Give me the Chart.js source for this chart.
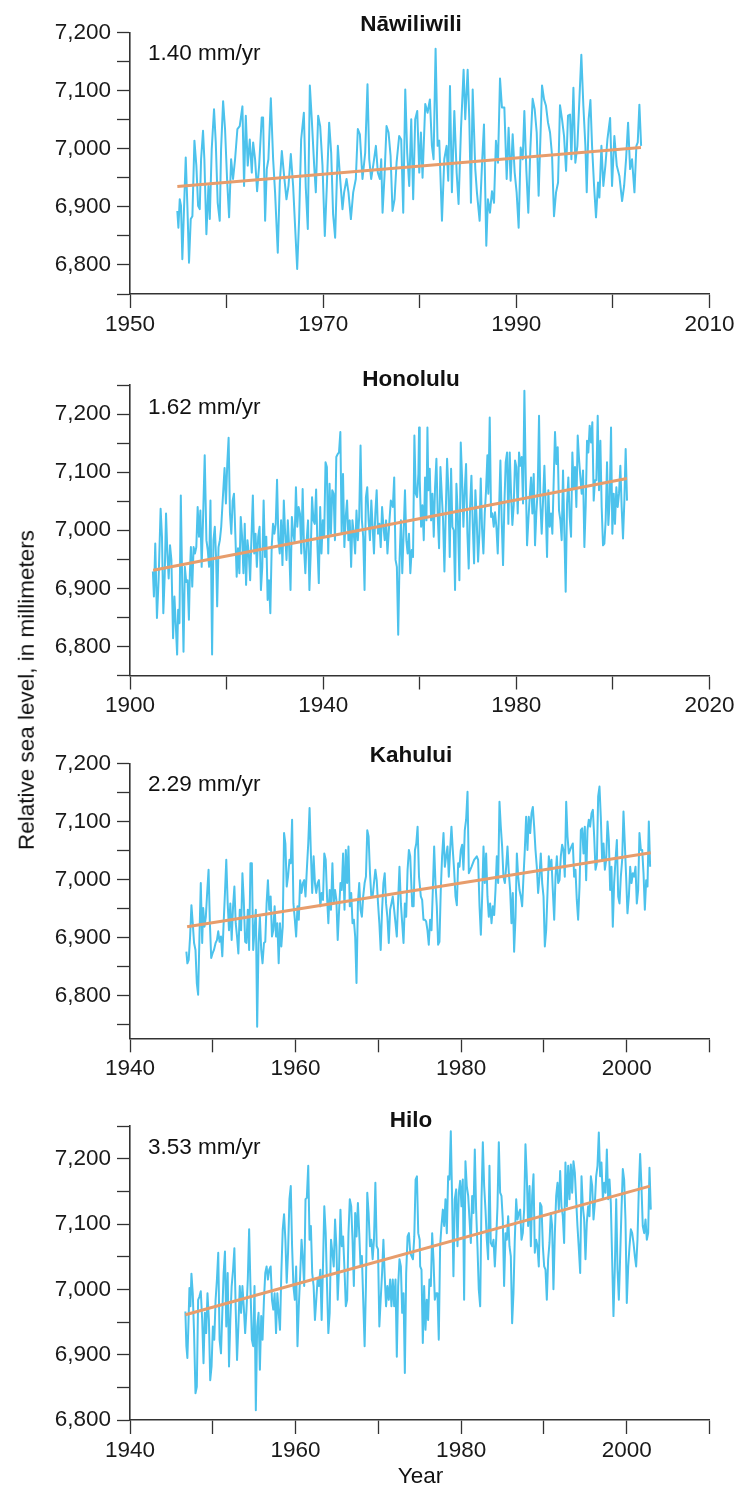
<!DOCTYPE html>
<html>
<head>
<meta charset="utf-8">
<script src="https://cdn.jsdelivr.net/npm/chart.js@4.4.1/dist/chart.umd.min.js"></script>
<style>
  body { margin: 0; background: #fff; }
  #page { position: relative; width: 738px; height: 1487px; overflow: hidden; font-family: "Liberation Sans", Arial, sans-serif; color: #111; }
  #page canvas { position: absolute; left: 0; }
  .lbl { position: absolute; font-size: 22.5px; line-height: 1; white-space: nowrap; }
  .station { font-weight: bold; transform: translateX(-50%); }
  .centered { transform: translateX(-50%); }
  #y-title { left: 27px; top: 690px; transform: translate(-50%, -50%) rotate(-90deg); }
</style>
</head>
<body>
<div id="page">
  <canvas id="chart-nawiliwili" width="738" height="345" style="top:0px"></canvas>
  <canvas id="chart-honolulu" width="738" height="381" style="top:345px"></canvas>
  <canvas id="chart-kahului" width="738" height="362" style="top:726px"></canvas>
  <canvas id="chart-hilo" width="738" height="399" style="top:1088px"></canvas>

  <div class="lbl station" style="left:411px; top:13px;">Nāwiliwili</div>
  <div class="lbl" style="left:148px; top:41.6px;">1.40 mm/yr</div>
  <div class="lbl station" style="left:411px; top:368px;">Honolulu</div>
  <div class="lbl" style="left:148px; top:396px;">1.62 mm/yr</div>
  <div class="lbl station" style="left:411px; top:744px;">Kahului</div>
  <div class="lbl" style="left:148px; top:772.6px;">2.29 mm/yr</div>
  <div class="lbl station" style="left:411px; top:1109px;">Hilo</div>
  <div class="lbl" style="left:148px; top:1136px;">3.53 mm/yr</div>

  <div class="lbl" id="y-title">Relative sea level, in millimeters</div>
  <div class="lbl centered" style="left:420.5px; top:1465px;">Year</div>
</div>

<script>
// Valores (ano decimal, nível relativo em mm)
const nawiliwiliYears = [
  1954.90,1955.01,1955.15,1955.28,1955.42,1955.77,1955.94,1956.11,1956.29,1956.46,
  1956.67,1956.87,1957.05,1957.22,1957.36,1957.56,1957.70,1957.91,1958.12,1958.26,
  1958.46,1958.70,1958.88,1959.08,1959.29,1959.43,1959.64,1959.84,1960.05,1960.26,
  1960.47,1960.67,1960.88,1961.12,1961.36,1961.64,1961.81,1961.99,1962.19,1962.40,
  1962.61,1962.75,1962.95,1963.16,1963.37,1963.64,1963.78,1963.99,1964.16,1964.33,
  1964.58,1964.82,1965.02,1965.30,1965.51,1965.72,1965.96,1966.20,1966.41,1966.65,
  1966.89,1967.10,1967.31,1967.51,1967.72,1968.00,1968.20,1968.41,1968.62,1968.82,
  1969.07,1969.24,1969.48,1969.69,1969.93,1970.17,1970.38,1970.62,1970.83,1971.03,
  1971.24,1971.52,1971.76,1972.00,1972.17,1972.42,1972.62,1972.87,1973.11,1973.38,
  1973.59,1973.80,1974.07,1974.35,1974.59,1974.77,1974.97,1975.18,1975.46,1975.66,
  1975.87,1976.01,1976.15,1976.35,1976.56,1976.77,1976.98,1977.18,1977.39,1977.60,
  1977.87,1978.08,1978.29,1978.50,1978.70,1978.91,1979.12,1979.32,1979.53,1979.74,
  1979.95,1980.12,1980.29,1980.57,1980.81,1981.05,1981.26,1981.43,1981.64,1981.85,
  1982.02,1982.30,1982.54,1982.78,1982.95,1983.13,1983.33,1983.58,1983.82,1984.02,
  1984.27,1984.54,1984.71,1984.96,1985.13,1985.30,1985.48,1985.75,1985.92,1986.20,
  1986.44,1986.65,1986.89,1987.06,1987.27,1987.48,1987.69,1987.89,1988.10,1988.31,
  1988.51,1988.76,1989.00,1989.20,1989.41,1989.62,1989.83,1990.03,1990.24,1990.45,
  1990.66,1990.83,1991.04,1991.24,1991.45,1991.69,1991.90,1992.11,1992.31,1992.66,
  1992.87,1993.07,1993.28,1993.49,1993.70,1993.90,1994.11,1994.32,1994.52,1994.73,
  1994.94,1995.15,1995.35,1995.56,1995.70,1995.91,1996.11,1996.32,1996.53,1996.73,
  1996.94,1997.15,1997.29,1997.49,1997.67,1997.84,1998.05,1998.25,1998.46,1998.60,
  1998.81,1999.01,1999.22,1999.43,1999.71,1999.91,2000.15,2000.40,2000.67,2000.95,
  2001.16,2001.36,2001.57,2001.78,2001.98,2002.23,2002.43,2002.57,2002.74,2002.92,
];
const nawiliwiliLevels = [
  6893,6864,6913,6902,6810,6985,6902,6804,6879,6884,
  7014,6971,6902,6896,6982,7031,6982,6853,6936,6879,
  6999,7068,7011,6907,6876,6999,7082,7034,6948,6882,
  6982,6948,6982,7034,7039,7073,6936,7057,6971,7016,
  6959,7011,6982,6927,6971,7054,7054,6876,6965,6982,
  7087,6982,6925,6821,6942,6996,6953,6913,6936,6991,
  6936,6864,6793,6879,7016,7062,6933,6862,7109,7051,
  6971,6925,7057,7039,6971,6850,6936,7045,6993,6887,
  6847,7005,6948,6896,6925,6948,6925,6879,6925,6948,
  7034,7025,6948,6993,7111,6982,6948,6971,7005,6959,
  6948,6982,6890,6953,7039,7028,6988,6893,6913,6976,
  7022,7016,6890,7102,6993,6936,7051,6913,7051,7065,
  6959,7028,6950,7077,7062,7085,7005,6982,7172,7005,
  7014,6876,6982,7005,6945,7108,6925,7065,6959,6905,
  7034,7136,7051,7136,7051,6907,7102,6965,6925,6876,
  6971,7042,6833,6913,6890,6927,6907,7014,6976,7121,
  7071,7071,6948,7036,6945,7025,6959,6925,6864,7002,
  6982,7065,6962,6890,6999,7086,7068,7028,6919,7109,
  7085,7074,7045,7028,6988,6884,6925,6942,7075,7051,
  7022,6962,7057,7059,6982,7105,6976,7005,7085,7162,
  7074,7005,6925,7051,7084,7005,6936,6882,6942,6916,
  7005,6936,6971,7016,7053,6936,7022,6971,6953,6910,
  6936,6982,7045,6965,6982,6925,7005,7011,7076,7005,
];
const nawiliwiliTrendYears = [1954.9, 2002.9];
const nawiliwiliTrendLevels = [6935, 7002];

const honoluluYears = [
  1904.74,1904.95,1905.23,1905.58,1905.92,1906.34,1906.62,1906.90,1907.18,1907.46,
  1907.74,1908.01,1908.29,1908.57,1908.92,1909.20,1909.48,1909.76,1909.97,1910.24,
  1910.52,1910.80,1911.08,1911.36,1911.64,1911.92,1912.20,1912.40,1912.61,1912.89,
  1913.17,1913.45,1913.73,1914.01,1914.29,1914.57,1914.84,1915.12,1915.47,1915.82,
  1916.10,1916.38,1916.66,1917.00,1917.28,1917.56,1917.84,1918.05,1918.33,1918.61,
  1918.89,1919.16,1919.58,1919.86,1920.14,1920.42,1920.70,1920.98,1921.26,1921.53,
  1921.81,1922.09,1922.37,1922.65,1922.93,1923.21,1923.49,1923.76,1924.04,1924.32,
  1924.60,1924.88,1925.16,1925.44,1925.72,1925.99,1926.27,1926.55,1926.83,1927.11,
  1927.39,1927.67,1927.95,1928.22,1928.50,1928.78,1929.06,1929.34,1929.62,1929.90,
  1930.18,1930.45,1930.73,1931.01,1931.29,1931.57,1931.85,1932.13,1932.41,1932.68,
  1932.96,1933.24,1933.52,1933.80,1934.08,1934.36,1934.64,1934.91,1935.19,1935.47,
  1935.75,1936.03,1936.31,1936.59,1936.87,1937.15,1937.42,1937.70,1937.98,1938.26,
  1938.54,1938.82,1939.10,1939.38,1939.65,1939.93,1940.21,1940.49,1940.77,1941.05,
  1941.33,1941.60,1941.88,1942.16,1942.44,1942.72,1943.00,1943.28,1943.56,1943.83,
  1944.11,1944.39,1944.67,1944.95,1945.23,1945.51,1945.79,1946.06,1946.34,1946.62,
  1946.90,1947.18,1947.46,1947.74,1948.02,1948.29,1948.57,1948.85,1949.13,1949.41,
  1949.69,1949.97,1950.24,1950.52,1950.80,1951.08,1951.36,1951.64,1951.92,1952.20,
  1952.48,1952.75,1953.03,1953.31,1953.73,1954.01,1954.43,1954.71,1954.99,1955.26,
  1955.54,1955.82,1956.10,1956.38,1956.66,1956.94,1957.22,1957.49,1957.77,1958.05,
  1958.33,1958.61,1958.89,1959.17,1959.45,1959.72,1959.86,
  1960.00,1960.28,1960.55,1960.83,1961.10,1961.38,1961.59,1961.79,1962.07,1962.35,
  1962.62,1962.90,1963.17,1963.45,1963.73,1964.00,1964.28,1964.55,1964.83,1965.11,
  1965.38,1965.66,1965.93,1966.21,1966.49,1966.76,1967.04,1967.31,1967.59,1967.87,
  1968.21,1968.49,1968.76,1969.04,1969.32,1969.59,1969.87,1970.14,1970.42,1970.70,
  1970.97,1971.25,1971.52,1971.80,1972.08,1972.35,1972.63,1972.90,1973.18,1973.46,
  1973.73,1974.01,1974.21,1974.49,1974.77,1975.04,1975.32,1975.59,1975.87,1976.15,
  1976.42,1976.70,1976.97,1977.25,1977.53,1977.80,1978.08,1978.35,1978.63,1978.91,
  1979.18,1979.46,1979.73,1980.01,1980.29,1980.56,1980.84,1981.11,1981.39,1981.67,
  1981.94,1982.22,1982.49,1982.77,1983.05,1983.32,1983.60,1983.87,1984.15,1984.43,
  1984.70,1984.98,1985.25,1985.53,1985.81,1986.08,1986.36,1986.63,1986.91,1987.19,
  1987.46,1987.74,1988.01,1988.29,1988.57,1988.84,1989.12,1989.39,1989.67,1989.95,
  1990.22,1990.50,1990.77,1991.05,1991.33,1991.60,1991.88,1992.15,1992.43,1992.71,
  1992.98,1993.26,1993.53,1993.81,1994.09,1994.36,1994.64,1994.91,1995.19,1995.47,
  1995.74,1996.02,1996.29,1996.57,1996.85,1997.12,1997.40,1997.67,1997.95,1998.23,
  1998.50,1998.78,1999.05,1999.33,1999.61,1999.88,2000.16,2000.43,2000.71,2000.99,
  2001.26,2001.54,2001.81,2002.09,2002.37,2002.64,2002.92,
];
const honoluluLevels = [
  6929,6886,6977,6849,6914,7037,6989,6857,6920,7029,
  6960,6917,6974,6949,6814,6886,6837,6786,6863,6840,
  7060,6914,6791,6937,6911,6914,6846,6926,6971,6903,
  6971,6960,6971,7040,6989,7034,6937,7017,7129,6983,
  6966,6937,7051,6786,6983,7006,6949,6869,6971,6983,
  7006,7046,7107,7046,7114,7159,7029,6994,7051,7063,
  6994,6920,6969,6926,7023,6989,6926,7011,6906,6983,
  6960,6914,6989,7060,6960,6994,6937,6989,7006,6897,
  6937,7051,6954,6989,6880,6914,6857,6971,7011,6994,
  7011,7087,6983,6960,7017,6940,7051,6994,6949,7017,
  6971,6897,7023,6994,6980,7074,7006,7040,7029,6960,
  7071,6971,6926,6983,7017,6897,6960,7057,7017,7011,
  7070,6971,6909,7040,6960,7017,6989,7117,7109,6960,
  7080,6994,7069,7063,6983,7126,7131,7134,7169,6994,
  7097,6971,7023,7051,6983,7017,6937,7017,6994,6960,
  7034,6983,7023,7146,7017,6989,6897,7057,7074,7017,
  6983,7051,7006,6960,7029,7069,6994,7011,6971,7040,
  7006,6983,7017,6960,7017,7051,7040,7091,6949,6937,
  6820,6949,7017,6926,6994,7069,6983,6960,6994,6926,
  6966,6954,7163,7063,7057,7097,7177,
  7086,7006,7043,6983,7091,7017,7177,7069,7106,7017,
  7063,6989,7074,7123,7023,6969,7109,7063,7017,6929,
  7029,7123,7069,6954,7106,7006,7000,6897,7080,7029,
  6914,7151,7091,7006,7069,7114,6994,6934,7040,7094,
  7011,6943,7069,7017,6946,6994,7089,7003,6960,7029,
  7069,7129,7063,7194,7023,7029,7006,7031,7006,6960,
  7034,7120,7017,6940,7046,7117,7134,7011,7134,7063,
  7009,7043,7120,7109,7029,7134,7111,7126,7046,7240,
  7097,6974,7017,7057,7091,7029,7097,6974,7031,7069,
  7197,7046,6994,7051,7111,7040,6954,7069,7006,7029,
  6994,7086,7169,7114,7143,7034,7017,6983,7103,6994,
  6894,7046,7091,7023,6989,7134,7074,7109,7040,7163,
  7123,7091,7063,7103,6971,7040,7154,7134,7180,7151,
  7186,7051,7086,7086,7197,7069,7154,7040,6974,6977,
  7017,7117,7009,7051,7177,6994,7063,7011,7074,7040,
  7063,7111,7040,6986,7051,7140,7051,
];
const honoluluTrendYears = [1904.8, 2002.9];
const honoluluTrendLevels = [6931, 7089];

const kahuluiYears = [
  1946.81,1946.93,1947.09,1947.26,1947.42,1947.58,1947.74,1947.91,1948.07,1948.23,
  1948.39,1948.55,1948.72,1948.84,1949.00,1949.16,1949.32,1949.49,1949.65,1949.81,
  1949.97,1950.14,1950.34,1950.50,1950.66,1950.82,1950.99,1951.15,1951.31,1951.47,
  1951.63,1951.80,1951.96,1952.12,1952.28,1952.45,1952.61,1952.77,1952.93,1953.09,
  1953.26,1953.42,1953.58,1953.74,1953.91,1954.07,1954.23,1954.39,1954.55,1954.72,
  1954.88,1955.04,1955.20,1955.36,1955.53,1955.69,1955.85,1956.01,1956.18,1956.34,
  1956.50,1956.66,1956.82,1956.99,1957.15,1957.31,1957.47,1957.64,1957.80,1957.96,
  1958.12,1958.28,1958.45,1958.61,1958.77,1958.93,1959.09,1959.26,1959.42,1959.58,
  1959.74,1959.91,1960.07,1960.23,1960.39,1960.55,1960.72,1960.88,1961.04,1961.20,
  1961.36,1961.53,1961.69,1961.85,1962.01,1962.18,1962.34,1962.50,1962.66,1962.82,
  1962.99,1963.15,1963.31,1963.47,1963.64,1963.80,1963.96,1964.12,1964.28,1964.45,
  1964.61,1964.77,1964.93,1965.09,1965.26,1965.42,1965.58,1965.74,1965.91,1966.07,
  1966.23,1966.39,1966.55,1966.72,1966.88,1967.04,1967.20,1967.36,1967.53,1967.69,
  1967.85,1968.01,1968.17,1968.34,1968.50,1968.66,1968.82,1968.99,1969.15,1969.31,
  1969.47,1969.64,1969.80,1969.96,1970.12,1970.28,1970.45,1970.61,1970.77,1970.93,
  1971.09,1971.26,1971.42,1971.58,1971.74,1971.91,1972.07,1972.23,1972.39,1972.55,
  1972.72,1972.88,1973.04,1973.20,1973.36,1973.53,1973.69,1973.85,1974.09,1974.26,
  1974.42,1974.58,1974.74,1974.91,
  1975.13,1975.29,1975.45,1975.61,1975.77,1975.93,1976.09,1976.25,1976.42,1976.58,
  1976.74,1976.90,1977.06,1977.22,1977.38,1977.54,1977.70,1977.87,1978.03,1978.19,
  1978.35,1978.51,1978.67,1978.83,1978.99,1979.15,1979.32,1979.48,1979.64,1979.80,
  1979.96,1980.12,1980.28,1980.44,1980.60,1980.77,1980.93,1981.25,1981.57,1981.89,
  1982.05,1982.22,1982.38,1982.54,1982.70,1982.86,1983.02,1983.18,1983.34,1983.50,
  1983.67,1983.83,1983.99,1984.15,1984.31,1984.47,1984.63,1984.79,1984.95,1985.11,
  1985.28,1985.44,1985.60,1985.76,1985.92,1986.08,1986.24,1986.40,1986.57,1986.73,
  1986.89,1987.05,1987.21,1987.37,1987.53,1987.69,1987.85,1988.01,1988.17,1988.34,
  1988.50,1988.66,1988.82,1988.98,1989.14,1989.30,1989.46,1989.62,1989.79,1989.95,
  1990.11,1990.27,1990.43,1990.59,1990.75,1990.91,1991.07,1991.24,1991.40,1991.56,
  1991.72,1991.88,1992.04,1992.20,1992.36,1992.52,1992.69,1992.85,1993.01,1993.17,
  1993.33,1993.49,1993.65,1993.81,1993.97,1994.13,1994.30,1994.46,1994.62,1994.78,
  1994.94,1995.10,1995.26,1995.42,1995.58,1995.75,1995.91,1996.07,1996.23,1996.39,
  1996.55,1996.71,1996.87,1997.03,1997.20,1997.36,1997.52,1997.68,1997.84,1998.00,
  1998.16,1998.32,1998.48,1998.65,1998.81,1998.97,1999.13,1999.29,1999.45,1999.61,
  1999.77,1999.93,2000.09,2000.26,2000.42,2000.58,2000.74,2000.90,2001.06,2001.22,
  2001.38,2001.54,2001.71,2001.87,2002.03,2002.19,2002.35,2002.51,2002.67,2002.83,
];
const kahuluiLevels = [
  6876,6856,6862,6902,6956,6925,6891,6879,6822,6802,
  6902,6994,6891,6951,6919,6936,6977,7017,6925,6865,
  6873,6879,6891,6896,6911,6893,6902,6868,6925,6977,
  7034,6959,6913,6959,6896,6954,6988,6925,6902,6873,
  6948,6913,7011,6965,6893,6891,6948,6879,7028,7028,
  6879,6913,6948,6747,6891,6936,6879,6856,6891,6893,
  6959,6999,6948,6971,6902,6913,6954,6902,6925,6856,
  6925,6885,6919,7080,7062,6988,7005,7034,7028,7103,
  6959,6931,6902,6954,6931,6999,6977,6994,6999,6971,
  7017,7062,7123,7045,6977,7040,6994,6977,6994,6999,
  6954,6977,6965,7045,7034,6971,6925,6982,6948,7028,
  6959,6982,6965,6896,6948,6994,6982,7045,6948,7051,
  6994,7057,6954,6977,6925,6931,6902,6822,6959,6994,
  6948,6936,6971,6994,7005,7085,7074,7011,6971,6971,
  6994,7017,6999,6959,6925,6879,6948,6994,7011,6959,
  6936,6891,6948,6959,6971,6948,6925,6902,6965,7022,
  6959,6925,6891,6959,6936,7017,7051,7040,6954,6954,
  7051,7062,7091,7005,
  6971,6965,6931,6931,6928,6913,6888,6931,6913,6982,
  7057,6994,6954,6888,6893,6982,7040,7080,7022,7040,
  7057,7005,7051,7091,7051,7017,6971,6956,7028,7022,
  7051,7060,7017,7085,7103,7151,7011,7022,7034,7040,
  7034,6954,6905,6971,7057,6994,7045,6971,6936,6959,
  6925,6954,6939,6982,7040,6994,7134,7091,7057,7005,
  6994,7022,7057,7011,6982,6925,6977,6876,6936,7045,
  7005,6982,6971,6954,7005,7051,7108,7051,7108,7080,
  7114,7125,7091,7051,7022,6977,7005,7045,6994,6971,
  6885,6913,6977,7040,7017,7034,6982,6931,7005,7040,
  6994,6999,7040,7060,7051,7005,7134,7074,7045,7051,
  7057,7062,7005,7017,6965,6931,6988,7085,7088,7045,
  7091,6999,7085,7103,7091,7114,7120,7074,7017,7028,
  7143,7160,7108,7034,7062,7017,7034,7100,7068,6982,
  7022,6919,6994,7034,7068,6971,6959,7005,7034,7117,
  7062,7005,6942,6971,7022,6994,7011,7005,7022,6959,
  6982,7080,7051,7051,7011,6948,6999,6988,7100,7022,
];
const kahuluiTrendYears = [1946.9, 2002.9];
const kahuluiTrendLevels = [6919, 7046];

const hiloYears = [
  1946.69,1946.81,1946.93,1947.05,1947.18,1947.30,1947.42,1947.58,1947.74,1947.91,
  1948.07,1948.23,1948.39,1948.55,1948.72,1948.88,1949.04,1949.20,1949.36,1949.53,
  1949.69,1949.85,1950.01,1950.18,1950.34,1950.50,1950.66,1950.82,1950.99,1951.15,
  1951.31,1951.47,1951.63,1951.80,1951.96,1952.12,1952.28,1952.45,1952.61,1952.77,
  1952.93,1953.09,1953.26,1953.42,1953.58,1953.74,1953.91,1954.07,1954.23,1954.39,
  1954.55,1954.72,1954.88,1955.04,1955.20,1955.36,1955.53,1955.69,1955.85,1956.01,
  1956.18,1956.34,1956.50,1956.66,1956.82,1956.99,1957.15,1957.31,1957.47,1957.64,
  1957.80,1957.96,1958.12,1958.28,1958.45,1958.61,1958.77,1958.93,1959.09,1959.26,
  1959.42,1959.58,1959.74,1959.91,1960.07,1960.23,1960.39,1960.55,1960.72,1960.88,
  1961.04,1961.20,1961.36,1961.53,1961.69,1961.85,1962.01,1962.18,1962.34,1962.50,
  1962.66,1962.82,1962.99,1963.15,1963.31,1963.47,1963.64,1963.80,1963.96,1964.12,
  1964.28,1964.45,1964.61,1964.77,1964.93,1965.09,1965.26,1965.42,1965.58,1965.74,
  1965.91,1966.07,1966.23,1966.39,1966.55,1966.72,1966.88,1967.04,1967.20,1967.36,
  1967.53,1967.69,1967.85,1968.01,1968.17,1968.34,1968.50,1968.66,1968.82,1968.99,
  1969.15,1969.31,1969.47,1969.64,1969.80,1969.96,1970.12,1970.28,1970.45,1970.61,
  1970.77,1970.93,1971.09,1971.26,1971.42,1971.58,1971.74,1971.91,1972.07,1972.23,
  1972.39,1972.55,1972.72,1972.88,1973.04,1973.20,1973.36,1973.53,1973.69,1973.85,
  1974.01,1974.18,1974.34,1974.50,1974.66,1974.82,1974.99,
  1975.05,1975.21,1975.37,1975.53,1975.69,1975.85,1976.01,1976.17,1976.34,1976.50,
  1976.66,1976.82,1976.98,1977.14,1977.30,1977.46,1977.62,1977.79,1977.95,1978.11,
  1978.27,1978.43,1978.59,1978.75,1978.91,1979.07,1979.23,1979.40,1979.56,1979.72,
  1979.88,1980.04,1980.20,1980.36,1980.52,1980.68,1980.85,1981.01,1981.17,1981.33,
  1981.49,1981.65,1981.81,1981.97,1982.13,1982.30,1982.46,1982.62,1982.78,1982.94,
  1983.10,1983.26,1983.42,1983.58,1983.75,1983.91,1984.07,1984.23,1984.39,1984.55,
  1984.71,1984.87,1985.03,1985.19,1985.36,1985.52,1985.68,1985.84,1986.00,1986.16,
  1986.32,1986.48,1986.65,1986.81,1986.97,1987.13,1987.29,1987.45,1987.61,1987.77,
  1987.93,1988.09,1988.26,1988.42,1988.58,1988.74,1988.90,1989.06,1989.22,1989.38,
  1989.54,1989.71,1989.87,1990.03,1990.19,1990.35,1990.51,1990.67,1990.83,1990.99,
  1991.15,1991.32,1991.48,1991.64,1991.80,1991.96,1992.12,1992.28,1992.44,1992.60,
  1992.77,1992.93,1993.09,1993.25,1993.41,1993.57,1993.73,1993.89,1994.05,1994.22,
  1994.38,1994.54,1994.70,1994.86,1995.02,1995.18,1995.34,1995.50,1995.67,1995.83,
  1995.99,1996.15,1996.31,1996.47,1996.63,1996.79,1996.95,1997.12,1997.28,1997.44,
  1997.60,1997.76,1997.92,1998.08,1998.24,1998.40,1998.57,1998.73,1998.89,1999.05,
  1999.21,1999.37,1999.53,1999.69,1999.85,2000.01,2000.18,2000.34,2000.50,2000.66,
  2000.82,2000.98,2001.14,2001.30,2001.46,2001.62,2001.78,2001.94,2002.11,2002.27,
  2002.43,2002.59,2002.75,2002.91,
];
const hiloLevels = [
  6966,6913,6895,6943,7002,6974,7024,6994,6933,6841,
  6851,6984,6989,6997,6953,6887,6964,6933,6994,6953,
  6861,6882,6943,6923,6984,7015,7056,6923,6902,6964,
  7025,7058,6943,7025,6882,6953,7005,7030,7063,6969,
  6892,6943,7005,6964,7005,6974,6933,6969,7015,7092,
  7005,6923,6913,7005,6815,6943,6964,6877,6959,6923,
  6984,7025,7035,7015,7030,7035,6984,6969,6994,6933,
  6994,6964,6938,7025,7092,7115,7076,7010,7056,7138,
  7158,7066,7005,6984,7035,6913,6974,7020,7076,7046,
  7005,7138,7140,7189,7076,7097,7025,7005,6953,6984,
  7015,7005,7030,6953,7035,7127,7086,7005,6933,6964,
  7076,7056,7035,7107,7066,6984,7035,7122,7066,7081,
  7030,6974,6984,7086,7138,7127,7076,7005,7117,7081,
  7132,7086,7035,7051,6984,6913,7005,7148,7117,7066,
  7076,7046,7076,7163,7066,7061,6943,6984,7025,7076,
  7020,6974,7005,6984,7015,6974,7015,6974,7015,6897,
  7005,7046,7035,6964,6994,6872,7025,7081,7086,7056,
  7051,7046,7081,7168,7173,7086,7076,
  7035,7030,6918,7005,6938,6984,6953,7015,7005,7086,
  7046,6984,6994,6994,6923,7066,7097,7122,7097,7138,
  7086,7173,7168,7242,7138,7020,7138,7153,7066,7148,
  7166,7127,7168,6984,7196,7158,7143,7107,7071,7143,
  7117,7214,7122,7066,7000,6974,7138,7225,7158,7122,
  7076,7046,7189,7071,7066,7076,7035,7076,7127,7225,
  7148,7143,7107,7005,7086,7076,7112,7066,7051,6948,
  6994,7076,7138,7107,7117,7122,7076,7086,7122,7222,
  7173,7097,7158,7066,7143,7176,7056,7076,7066,7035,
  7132,7127,7066,7035,7030,6984,7046,7071,7117,7097,
  7000,7086,7143,7163,7122,7181,7127,7112,7071,7194,
  7127,7189,7138,7191,7148,7196,7179,7138,7097,7061,
  7025,7173,7127,7107,7046,7102,7127,7112,7173,7158,
  7107,7132,7173,7189,7240,7173,7194,7138,7163,7148,
  7214,7138,7168,7132,7046,6959,7035,7138,7030,6984,
  7051,7122,7184,7168,7107,6979,7035,7066,7092,7086,
  7071,7051,7035,7076,7153,7207,7158,7097,7086,7107,
  7076,7086,7186,7122,
];
const hiloTrendYears = [1946.7, 2002.8];
const hiloTrendLevels = [6961, 7158];

// Marcas dos eixos
const levelLabels = [6800, 6900, 7000, 7100, 7200];
const nawiliwiliYearTicks = [1950, 1960, 1970, 1980, 1990, 2000, 2010];
const nawiliwiliYearLabels = [1950, 1970, 1990, 2010];
const honoluluYearTicks = [1900, 1920, 1940, 1960, 1980, 2000, 2020];
const honoluluYearLabels = [1900, 1940, 1980, 2020];
const mauiHiloYearTicks = [1940, 1950, 1960, 1970, 1980, 1990, 2000, 2010];
const mauiHiloYearLabels = [1940, 1960, 1980, 2000];

const SERIES_COLOR = "#4cc2ec";
const TREND_COLOR = "#e79d6c";
const AXIS_COLOR = "#333";
const FONT = { family: '"Liberation Sans", Arial, sans-serif', size: 22.5 };

function toPoints(xs, ys) {
  return xs.map((x, i) => ({ x, y: ys[i] }));
}

function levelTicks(min, max) {
  const out = [];
  for (let v = Math.ceil(min / 50) * 50; v <= max; v += 50) out.push(v);
  return out;
}

function renderPanel(canvasId, p) {
  new Chart(document.getElementById(canvasId), {
    type: "line",
    data: {
      datasets: [
        { data: toPoints(p.trendYears, p.trendLevels), borderColor: TREND_COLOR, borderWidth: 3, pointRadius: 0 },
        { data: toPoints(p.years, p.levels), borderColor: SERIES_COLOR, borderWidth: 2, pointRadius: 0, borderJoinStyle: "round" },
      ],
    },
    options: {
      responsive: false,
      animation: false,
      devicePixelRatio: 1,
      events: [],
      layout: { padding: { top: p.padTop, right: 28.5, left: 0, bottom: 0 } },
      plugins: { legend: { display: false }, tooltip: { enabled: false } },
      scales: {
        x: {
          type: "linear",
          min: p.yearTicks[0],
          max: p.yearTicks[p.yearTicks.length - 1],
          afterFit: (s) => { s.height = p.xHeight; },
          afterBuildTicks: (s) => { s.ticks = p.yearTicks.map((v) => ({ value: v })); },
          ticks: {
            autoSkip: false, maxRotation: 0, padding: 3, color: "#1a1a1a", font: FONT,
            callback: (v) => (p.yearLabels.includes(v) ? String(v) : ""),
          },
          grid: { drawOnChartArea: false, drawTicks: true, tickLength: 14, tickColor: AXIS_COLOR, tickWidth: 1.3 },
          border: { display: true, color: AXIS_COLOR, width: 1.6 },
        },
        y: {
          type: "linear",
          min: p.min,
          max: p.max,
          afterFit: (s) => { s.width = 130; },
          afterBuildTicks: (s) => { s.ticks = levelTicks(p.min, p.max).map((v) => ({ value: v })); },
          ticks: {
            autoSkip: false, padding: 6, color: "#1a1a1a", font: FONT,
            callback: (v) => (levelLabels.includes(v) ? v.toLocaleString("en-US") : ""),
          },
          grid: { drawOnChartArea: false, drawTicks: true, tickLength: 13, tickColor: AXIS_COLOR, tickWidth: 1.3 },
          border: { display: true, color: AXIS_COLOR, width: 1.6 },
        },
      },
    },
  });
}

renderPanel("chart-nawiliwili", {
  years: nawiliwiliYears, levels: nawiliwiliLevels,
  trendYears: nawiliwiliTrendYears, trendLevels: nawiliwiliTrendLevels,
  yearTicks: nawiliwiliYearTicks, yearLabels: nawiliwiliYearLabels,
  min: 6750, max: 7200, padTop: 32.6, xHeight: 51,
});
renderPanel("chart-honolulu", {
  years: honoluluYears, levels: honoluluLevels,
  trendYears: honoluluTrendYears, trendLevels: honoluluTrendLevels,
  yearTicks: honoluluYearTicks, yearLabels: honoluluYearLabels,
  min: 6750, max: 7250, padTop: 40, xHeight: 50.5,
});
renderPanel("chart-kahului", {
  years: kahuluiYears, levels: kahuluiLevels,
  trendYears: kahuluiTrendYears, trendLevels: kahuluiTrendLevels,
  yearTicks: mauiHiloYearTicks, yearLabels: mauiHiloYearLabels,
  min: 6727, max: 7200, padTop: 37.3, xHeight: 49.7,
});
renderPanel("chart-hilo", {
  years: hiloYears, levels: hiloLevels,
  trendYears: hiloTrendYears, trendLevels: hiloTrendLevels,
  yearTicks: mauiHiloYearTicks, yearLabels: mauiHiloYearLabels,
  min: 6800, max: 7250, padTop: 38, xHeight: 67,
});
</script>
</body>
</html>
